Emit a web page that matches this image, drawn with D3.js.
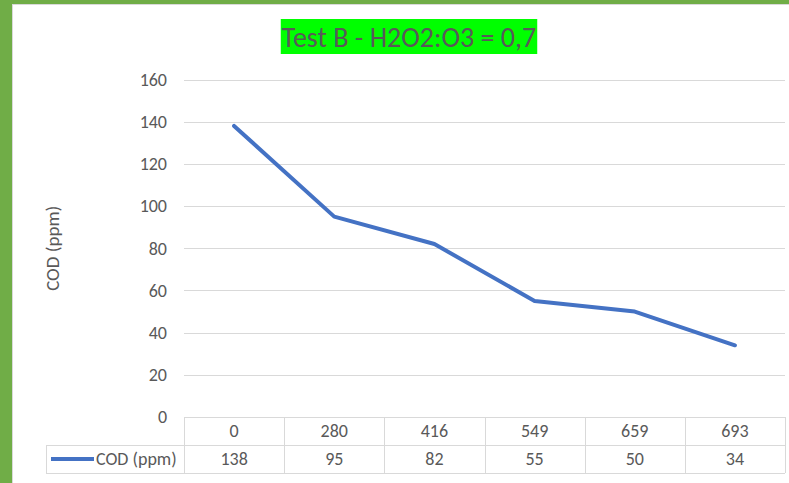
<!DOCTYPE html>
<html>
<head>
<meta charset="utf-8">
<script src="https://cdn.jsdelivr.net/npm/d3@7"></script>
<style>
  html, body { margin: 0; padding: 0; background: #70AD47; }
  svg { display: block; font-family: Carlito, Lato, "Open Sans", sans-serif; }
</style>
</head>
<body>
<svg id="chart" width="789" height="483"></svg>
<script>
// Reaction time / dose labels along the category axis
const categories = ["0", "280", "416", "549", "659", "693"];
// COD readings (ppm)
const codValues = [138, 95, 82, 55, 50, 34];
const seriesName = "COD (ppm)";
const yTicks = [0, 20, 40, 60, 80, 100, 120, 140, 160];
const chartTitle = "Test B - H2O2:O3 = 0,7";

const svg = d3.select("#chart");
const W = 789, H = 483;
const textColor = "#595959";
const labelSize = "18px";

// green frame and chart area
svg.append("rect").attr("x", 0).attr("y", 0).attr("width", W).attr("height", H).attr("fill", "#70AD47");
svg.append("rect").attr("x", 12).attr("y", 4).attr("width", W - 12).attr("height", H - 4).attr("fill", "#D9D9D9");
svg.append("rect").attr("x", 13).attr("y", 5).attr("width", W - 13).attr("height", H - 5).attr("fill", "#FFFFFF");

const plot = { left: 184, right: 785, top: 79.5, bottom: 417 };

const x = d3.scaleBand().domain(categories).range([plot.left, plot.right]);
const y = d3.scaleLinear().domain([0, 160]).range([plot.bottom, plot.top]);

// horizontal gridlines
svg.append("g").selectAll("line").data(yTicks.filter(t => t > 0)).join("line")
  .attr("x1", plot.left).attr("x2", plot.right)
  .attr("y1", d => Math.round(y(d)) + 0.5).attr("y2", d => Math.round(y(d)) + 0.5)
  .attr("stroke", "#D9D9D9").attr("stroke-width", 1);

// y axis labels
const yAxis = d3.axisLeft(y).tickValues(yTicks).tickSize(0).tickPadding(0);
const yg = svg.append("g").attr("transform", `translate(${plot.left - 17},0)`).call(yAxis);
yg.select(".domain").remove();
yg.selectAll("text").attr("fill", textColor).style("font-size", labelSize)
  .style("font-family", "Carlito, Lato, 'Open Sans', sans-serif");

// y axis title
svg.append("text")
  .attr("transform", `translate(59,${(plot.top + plot.bottom) / 2}) rotate(-90)`)
  .attr("text-anchor", "middle")
  .attr("fill", textColor).style("font-size", "19px")
  .text(seriesName);

// data table grid
const tableTop = plot.bottom, rowMid = 445, tableBottom = 473, legendLeft = 46;
const grid = svg.append("g").attr("stroke", "#D9D9D9").attr("stroke-width", 1).attr("fill", "none");
const colEdges = categories.map(c => x(c)).concat([plot.right]);
grid.selectAll("line.v").data(colEdges).join("line")
  .attr("x1", d => Math.round(d) + 0.5).attr("x2", d => Math.round(d) + 0.5)
  .attr("y1", tableTop).attr("y2", tableBottom);
grid.append("line").attr("x1", legendLeft + 0.5).attr("x2", legendLeft + 0.5).attr("y1", rowMid).attr("y2", tableBottom);
grid.append("line").attr("x1", plot.left).attr("x2", plot.right).attr("y1", tableTop + 0.5).attr("y2", tableTop + 0.5);
grid.append("line").attr("x1", legendLeft).attr("x2", plot.right).attr("y1", rowMid + 0.5).attr("y2", rowMid + 0.5);
grid.append("line").attr("x1", legendLeft).attr("x2", plot.right).attr("y1", tableBottom + 0.5).attr("y2", tableBottom + 0.5);

// header row: categories
svg.append("g").selectAll("text").data(categories).join("text")
  .attr("x", d => x(d) + x.bandwidth() / 2).attr("y", 437)
  .attr("text-anchor", "middle").attr("fill", textColor).style("font-size", labelSize)
  .text(d => d);

// value row
svg.append("g").selectAll("text").data(codValues).join("text")
  .attr("x", (d, i) => x(categories[i]) + x.bandwidth() / 2).attr("y", 465)
  .attr("text-anchor", "middle").attr("fill", textColor).style("font-size", labelSize)
  .text(d => d);

// legend key in the table
svg.append("line").attr("x1", 51).attr("x2", 94).attr("y1", 459).attr("y2", 459)
  .attr("stroke", "#4472C4").attr("stroke-width", 4);
svg.append("text").attr("x", 96).attr("y", 465).attr("fill", textColor).style("font-size", labelSize)
  .text(seriesName);

// the COD line
const line = d3.line()
  .x((d, i) => x(categories[i]) + x.bandwidth() / 2)
  .y(d => y(d));
svg.append("path").datum(codValues)
  .attr("d", line)
  .attr("fill", "none").attr("stroke", "#4472C4").attr("stroke-width", 4)
  .attr("stroke-linejoin", "round").attr("stroke-linecap", "round");

// title with highlight
const titleG = svg.append("g");
const tText = titleG.append("text")
  .attr("x", 409).attr("y", 47).attr("text-anchor", "middle")
  .attr("fill", textColor).style("font-size", "28px")
  .text(chartTitle);
const bb = tText.node().getBBox();
titleG.insert("rect", "text")
  .attr("x", bb.x - 1).attr("y", 19).attr("width", bb.width + 2).attr("height", 35)
  .attr("fill", "#00FF00");
</script>
</body>
</html>
